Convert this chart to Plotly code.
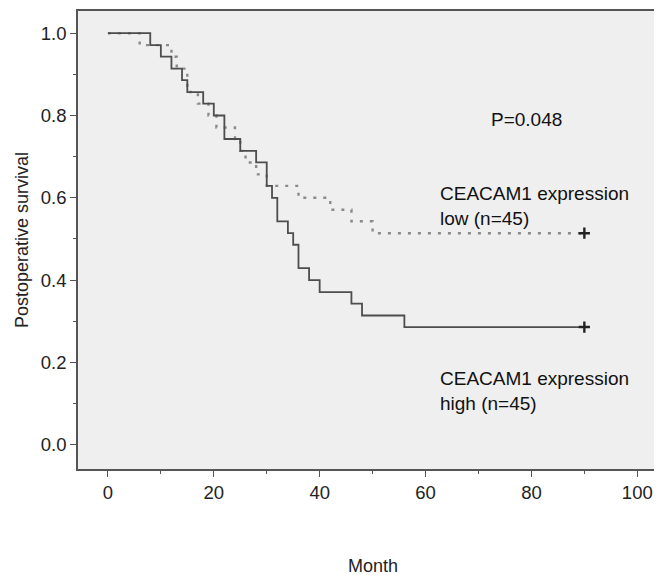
import plotly.graph_objects as go

# Months at which each curve steps, and the survival value after the step
high_months = [0, 8, 10, 12, 14, 15, 18, 20, 22, 25, 28, 30, 31, 32, 34, 35, 36, 38, 40, 46, 48, 56, 90]
high_surv = [1.0, 0.971, 0.943, 0.914, 0.886, 0.857, 0.829, 0.8, 0.743, 0.714, 0.686, 0.629, 0.6,
             0.543, 0.514, 0.486, 0.429, 0.4, 0.371, 0.343, 0.314, 0.286, 0.286]

low_months = [0, 6, 12, 13, 15, 17, 19, 20.5, 24, 25, 26, 28, 30, 36, 42, 46, 50, 90]
low_surv = [1.0, 0.971, 0.943, 0.914, 0.857, 0.829, 0.8, 0.771, 0.743, 0.714, 0.686, 0.657,
            0.629, 0.6, 0.571, 0.543, 0.514, 0.514]

x_ticks = [0, 20, 40, 60, 80, 100]
y_ticks = [0.0, 0.2, 0.4, 0.6, 0.8, 1.0]
y_tick_labels = ["0.0", "0.2", "0.4", "0.6", "0.8", "1.0"]

p_text = "P=0.048"
low_label = "CEACAM1 expression<br>low (n=45)"
high_label = "CEACAM1 expression<br>high (n=45)"

FONT = "Liberation Sans, Arial, Helvetica, sans-serif"

fig = go.Figure()

fig.add_trace(go.Scatter(
    x=low_months, y=low_surv, mode="lines", line_shape="hv",
    line=dict(color="#8a8a8a", width=2.4, dash="3px,7px"), showlegend=False, hoverinfo="skip"))
fig.add_trace(go.Scatter(
    x=high_months, y=high_surv, mode="lines", line_shape="hv",
    line=dict(color="#4d4d4d", width=1.8), showlegend=False, hoverinfo="skip"))

# censor marks at the end of follow-up
fig.add_trace(go.Scatter(
    x=[low_months[-1], high_months[-1]], y=[low_surv[-1], high_surv[-1]], mode="markers",
    marker=dict(symbol="cross-thin", size=8, line=dict(color="#222222", width=2.4)),
    showlegend=False, hoverinfo="skip"))

fig.add_annotation(x=79, y=0.79, text=p_text, showarrow=False, xanchor="center",
                   yanchor="middle", font=dict(family=FONT, size=19, color="#111111"))
fig.add_annotation(x=62.3, y=0.58, text=low_label, showarrow=False, xanchor="left",
                   yanchor="middle", align="left", font=dict(family=FONT, size=19, color="#111111"))
fig.add_annotation(x=62.3, y=0.13, text=high_label, showarrow=False, xanchor="left",
                   yanchor="middle", align="left", font=dict(family=FONT, size=19, color="#111111"))

axis_common = dict(
    showline=True, linecolor="#555555", linewidth=1.5, mirror=True,
    ticks="outside", ticklen=6, tickcolor="#555555", tickwidth=1.3,
    showgrid=False, zeroline=False, automargin=False,
    tickfont=dict(family=FONT, size=18.5, color="#222222"),
)

fig.update_xaxes(
    range=[-5.65, 105.8], tickvals=x_ticks,
    minor=dict(ticks="outside", ticklen=3, tickcolor="#555555", dtick=10, tick0=0),
    title=dict(text="Month", font=dict(family=FONT, size=18, color="#222222"), standoff=57),
    **axis_common)
fig.update_yaxes(
    range=[-0.059, 1.054], tickvals=y_ticks, ticktext=y_tick_labels,
    minor=dict(ticks="outside", ticklen=3, tickcolor="#555555", dtick=0.1, tick0=0),
    title=dict(text="Postoperative survival", font=dict(family=FONT, size=18, color="#222222"), standoff=8),
    **axis_common)

fig.update_layout(
    width=662, height=575,
    margin=dict(l=70, r=2, t=3, b=114),
    plot_bgcolor="#efefef", paper_bgcolor="white",
)

fig.write_html("out.html")
